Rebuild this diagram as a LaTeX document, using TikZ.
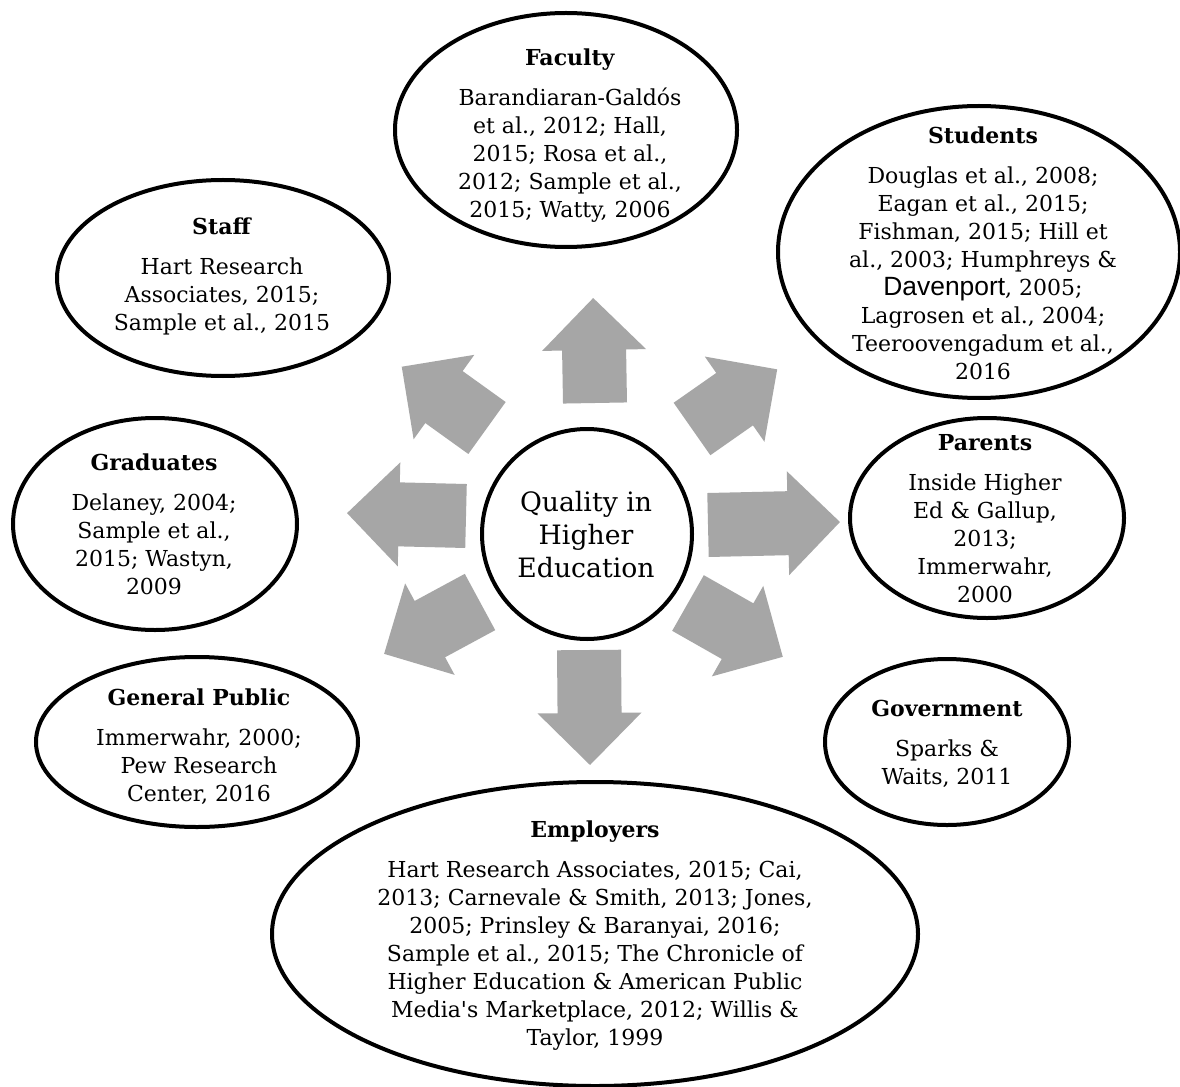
\documentclass[tikz,border=0pt]{standalone}
\usepackage{fontspec}
\setmainfont{DejaVu Serif}
\newfontfamily\plainfont{DejaVu Serif}
\newfontfamily\davfont{Liberation Sans}[Scale=1.2]
\usetikzlibrary{shapes.geometric}
\definecolor{arrowgray}{RGB}{166,166,166}
\tikzset{
  ell/.style={ellipse, draw=black, line width=3pt, inner sep=0pt},
  esize/.style 2 args={minimum width={0.75*#1pt}, minimum height={0.75*#2pt}},
  txt/.style={align=center, inner sep=0pt, text=black, font=\fontsize{16.5}{21}\selectfont},
  ctxt/.style={align=center, inner sep=0pt, text=black, font=\fontsize{20}{24.75}\selectfont},
  blockarrow/.style={fill=arrowgray, draw=none}
}
\newcommand\barrow[4]{%
  \fill[blockarrow, shift={(#1,#2)}, rotate=#3]
    (0,-32) -- ({#4-52},-32) -- ({#4-52},-52) -- (#4,0) -- ({#4-52},52) -- ({#4-52},32) -- (0,32) -- cycle;}
\begin{document}
\begin{tikzpicture}[x=0.75pt, y=-0.75pt]
\useasboundingbox (0,0) rectangle (1180,1087);
\fill[white] (0,0) rectangle (1180,1087);

% block arrows
\barrow{595}{403}{91}{105}
\barrow{692}{429}{35}{104}
\barrow{708}{525}{1.3}{132}
\barrow{688}{603}{-29.6}{109}
\barrow{589}{650}{-89.5}{115}
\barrow{480}{602}{208.4}{109}
\barrow{466}{516}{178.6}{119}
\barrow{487}{428}{144.3}{105}

% ellipses
\node[ell, circle, minimum size={1.5*105pt}] (center) at (587,534) {};
\node[ell, esize={342}{234}] (faculty) at (566,130) {};
\node[ell, esize={332}{196}] (staff) at (223,278) {};
\node[ell, esize={402}{292}] (students) at (979,252) {};
\node[ell, esize={274}{200}] (parents) at (987,518) {};
\node[ell, esize={284}{212}] (graduates) at (155,524) {};
\node[ell, esize={322}{170}] (public) at (197,742) {};
\node[ell, esize={244}{166}] (government) at (947,742) {};
\node[ell, esize={646}{304}] (employers) at (595,934) {};

% texts
\node[ctxt] (centertxt) at (586,535) {Quality in\\Higher\\Education};
\node[txt] (facultytxt) at (570,136) {\textbf{Faculty}\\[9pt]Barandiaran-Galdós\\et al., 2012; Hall,\\2015; Rosa et al.,\\2012; Sample et al.,\\2015; Watty, 2006};
\node[txt] (stafftxt) at (222,276.5) {\textbf{Staff}\\[9pt]Hart Research\\Associates, 2015;\\Sample et al., 2015};
\node[txt] (studentstxt) at (983,253.5) {\textbf{Students}\\[9pt]Douglas et al., 2008;\\Eagan et al., 2015;\\Fishman, 2015; Hill et\\al., 2003; Humphreys \&\\{\davfont Davenport}, 2005;\\Lagrosen et al., 2004;\\Teeroovengadum et al.,\\2016};
\node[txt] (parentstxt) at (985,519) {\textbf{Parents}\\[9pt]Inside Higher\\Ed \& Gallup,\\2013;\\Immerwahr,\\2000};
\node[txt] (graduatestxt) at (154,524.5) {\textbf{Graduates}\\[9pt]Delaney, 2004;\\Sample et al.,\\2015; Wastyn,\\2009};
\node[txt] (publictxt) at (199,746.5) {\textbf{General Public}\\[9pt]Immerwahr, 2000;\\Pew Research\\Center, 2016};
\node[txt] (governmenttxt) at (947,743.5) {\textbf{Government}\\[9pt]Sparks \&\\Waits, 2011};
\node[txt] (employerstxt) at (595,936) {\textbf{Employers}\\[9pt]Hart Research Associates, 2015; Cai,\\2013; Carnevale \& Smith, 2013; Jones,\\2005; Prinsley \& Baranyai, 2016;\\Sample et al., 2015; The Chronicle of\\Higher Education \& American Public\\Media{\plainfont '}s Marketplace, 2012; Willis \&\\Taylor, 1999};
\end{tikzpicture}
\end{document}
